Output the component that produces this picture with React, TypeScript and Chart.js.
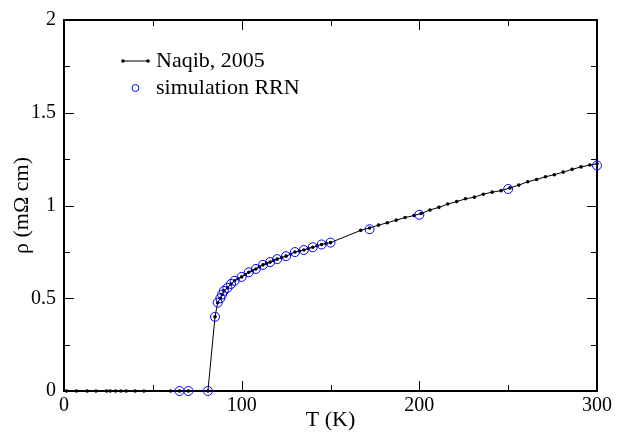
import React, { useEffect, useRef } from "react";
import { Chart, registerables } from "chart.js";
Chart.register(...registerables);

// Naqib, 2005 (black line with dots)
const naqibT = [
  1.5, 7, 13, 18, 24, 26, 29, 32, 35, 40, 45, 60, 65, 70, 81,
  85, 86.5, 88, 89, 90, 92, 94, 96, 98, 100, 102, 104, 106, 108, 110, 112, 114, 116, 118, 120,
  122.5, 125, 127.5, 130, 132.5, 135, 137.5, 140, 142.5, 145, 147.5, 150,
  167, 172, 177, 182, 187, 192, 197, 201, 206, 211, 216, 221, 226, 231, 236, 241, 246,
  251, 256, 261, 266, 271, 276, 281, 286, 291, 296, 300,
];
const naqibRho = [
  0, 0, 0, 0, 0, 0, 0, 0, 0, 0, 0, 0, 0, 0, 0,
  0.4, 0.476, 0.5, 0.52, 0.54, 0.556, 0.577, 0.594, 0.605, 0.615, 0.628, 0.64, 0.649, 0.658, 0.669, 0.68, 0.688, 0.695, 0.703, 0.711,
  0.719, 0.727, 0.738, 0.749, 0.755, 0.76, 0.768, 0.775, 0.783, 0.79, 0.795, 0.8,
  0.866, 0.879, 0.894, 0.907, 0.921, 0.935, 0.946, 0.957, 0.976, 0.99, 1.008, 1.021, 1.036, 1.045, 1.061, 1.072, 1.08,
  1.095, 1.11, 1.128, 1.14, 1.155, 1.166, 1.18, 1.195, 1.208, 1.218, 1.225,
];

// simulation RRN (blue open circles)
const simT = [
  65, 70, 81, 85, 86.5, 88, 89, 90, 92, 94, 96, 100, 104, 108, 112, 116, 120, 125, 130, 135, 140, 145, 150,
  172, 200, 250, 300,
];
const simRho = [
  0, 0, 0, 0.4, 0.476, 0.5, 0.52, 0.54, 0.556, 0.577, 0.594, 0.615, 0.64, 0.658, 0.68, 0.695, 0.711, 0.727, 0.749, 0.76, 0.775, 0.79, 0.8,
  0.872, 0.95, 1.089, 1.216,
];

const xMajor = [0, 100, 200, 300];
const xMinor = [50, 150, 250];
const yMajor = [0, 0.5, 1, 1.5, 2];
const yMinor = [0.25, 0.75, 1.25, 1.75];

const legendLabels = ["Naqib, 2005", "simulation RRN"];
const xTitle = "T (K)";
const yTitle = "ρ (mΩ cm)";

const FONT = "'Liberation Serif'";

export default function App() {
  const ref = useRef<HTMLCanvasElement>(null);

  useEffect(() => {
    document.body.style.margin = "0";
    const canvas = ref.current;
    if (!canvas) return;
    Chart.defaults.font.family = FONT;

    const framePlugin = {
      id: "frame",
      beforeDatasetsDraw(chart: any) {
        const { ctx, chartArea: a, scales } = chart;
        const xs = scales.x;
        const ys = scales.y;
        ctx.save();
        ctx.strokeStyle = "#000";
        ctx.lineWidth = 2;
        ctx.beginPath();
        ctx.moveTo(a.left, a.top);
        ctx.lineTo(a.right, a.top);
        ctx.lineTo(a.right, a.bottom);
        ctx.stroke();
        ctx.lineWidth = 1;
        ctx.beginPath();
        const tx = (v: number, len: number) => {
          const p = Math.round(xs.getPixelForValue(v)) + 0.5;
          ctx.moveTo(p, a.bottom);
          ctx.lineTo(p, a.bottom - len);
          ctx.moveTo(p, a.top);
          ctx.lineTo(p, a.top + len);
        };
        const ty = (v: number, len: number) => {
          const p = Math.round(ys.getPixelForValue(v)) + 0.5;
          ctx.moveTo(a.left, p);
          ctx.lineTo(a.left + len, p);
          ctx.moveTo(a.right, p);
          ctx.lineTo(a.right - len, p);
        };
        xMajor.forEach((v) => tx(v, 10));
        xMinor.forEach((v) => tx(v, 6));
        yMajor.forEach((v) => ty(v, 10));
        yMinor.forEach((v) => ty(v, 6));
        ctx.stroke();
        ctx.restore();
      },
      afterDraw(chart: any) {
        const { ctx, chartArea: a } = chart;
        ctx.save();
        const lx = a.left + 59;
        const tx = a.left + 92;
        const y1 = a.top + 41;
        const y2 = a.top + 68;
        ctx.strokeStyle = "#000";
        ctx.lineWidth = 1;
        ctx.beginPath();
        ctx.moveTo(lx, y1);
        ctx.lineTo(lx + 25, y1);
        ctx.stroke();
        ctx.fillStyle = "#000";
        [lx, lx + 25].forEach((x) => {
          ctx.beginPath();
          ctx.arc(x, y1, 1.8, 0, Math.PI * 2);
          ctx.fill();
        });
        ctx.strokeStyle = "#0000ff";
        ctx.beginPath();
        ctx.arc(lx + 12.5, y2, 3.5, 0, Math.PI * 2);
        ctx.stroke();
        ctx.fillStyle = "#000";
        ctx.font = `22px ${FONT}`;
        ctx.textBaseline = "middle";
        ctx.textAlign = "left";
        ctx.fillText(legendLabels[0], tx, y1);
        ctx.fillText(legendLabels[1], tx, y2);
        ctx.restore();
      },
    };

    const chart = new Chart(canvas, {
      type: "scatter",
      data: {
        datasets: [
          {
            label: legendLabels[0],
            data: naqibT.map((t, i) => ({ x: t, y: naqibRho[i] })),
            showLine: true,
            borderColor: "#000",
            borderWidth: 1,
            pointRadius: 1.8,
            pointBackgroundColor: "#000",
            pointBorderColor: "#000",
            pointBorderWidth: 0,
            clip: false as any,
            order: 2,
          },
          {
            label: legendLabels[1],
            data: simT.map((t, i) => ({ x: t, y: simRho[i] })),
            showLine: false,
            pointStyle: "circle",
            pointRadius: 4.5,
            pointBackgroundColor: "rgba(0,0,0,0)",
            pointBorderColor: "#0000ff",
            pointBorderWidth: 1,
            borderColor: "#0000ff",
            clip: false as any,
            order: 1,
          },
        ],
      },
      options: {
        animation: false,
        responsive: false,
        maintainAspectRatio: false,
        events: [],
        layout: { padding: { left: 0, top: 18, right: 20, bottom: 0 } },
        plugins: { legend: { display: false }, tooltip: { enabled: false } },
        scales: {
          x: {
            type: "linear",
            min: 0,
            max: 300,
            afterFit: (s: any) => {
              s.height = 42;
            },
            afterBuildTicks: (s: any) => {
              s.ticks = xMajor.map((v) => ({ value: v }));
            },
            grid: { drawOnChartArea: false, drawTicks: false },
            border: { color: "#000", width: 2 },
            ticks: {
              color: "#000",
              font: { family: FONT, size: 20 },
              padding: 3,
              maxRotation: 0,
            },
            title: {
              display: true,
              text: xTitle,
              color: "#000",
              font: { family: FONT, size: 22 },
              padding: { top: 0, bottom: 0 },
            },
          },
          y: {
            type: "linear",
            min: 0,
            max: 2,
            afterFit: (s: any) => {
              s.width = 64;
            },
            afterBuildTicks: (s: any) => {
              s.ticks = yMajor.map((v) => ({ value: v }));
            },
            grid: { drawOnChartArea: false, drawTicks: false },
            border: { color: "#000", width: 2 },
            ticks: {
              color: "#000",
              font: { family: FONT, size: 20 },
              padding: 8,
              callback: (v: any) => String(v),
            },
            title: {
              display: true,
              text: yTitle,
              color: "#000",
              font: { family: FONT, size: 22 },
              padding: { top: 9, bottom: 0 },
            },
          },
        },
      },
      plugins: [framePlugin],
    } as any);

    let alive = true;
    const redraw = () => {
      if (alive) chart.update();
    };
    const fonts: any = (document as any).fonts;
    if (fonts && fonts.ready) fonts.ready.then(redraw);

    return () => {
      alive = false;
      chart.destroy();
    };
  }, []);

  return (
    <div style={{ position: "absolute", left: 0, top: 0, width: 617, height: 433 }}>
      <canvas ref={ref} width={617} height={433} style={{ display: "block" }} />
    </div>
  );
}
